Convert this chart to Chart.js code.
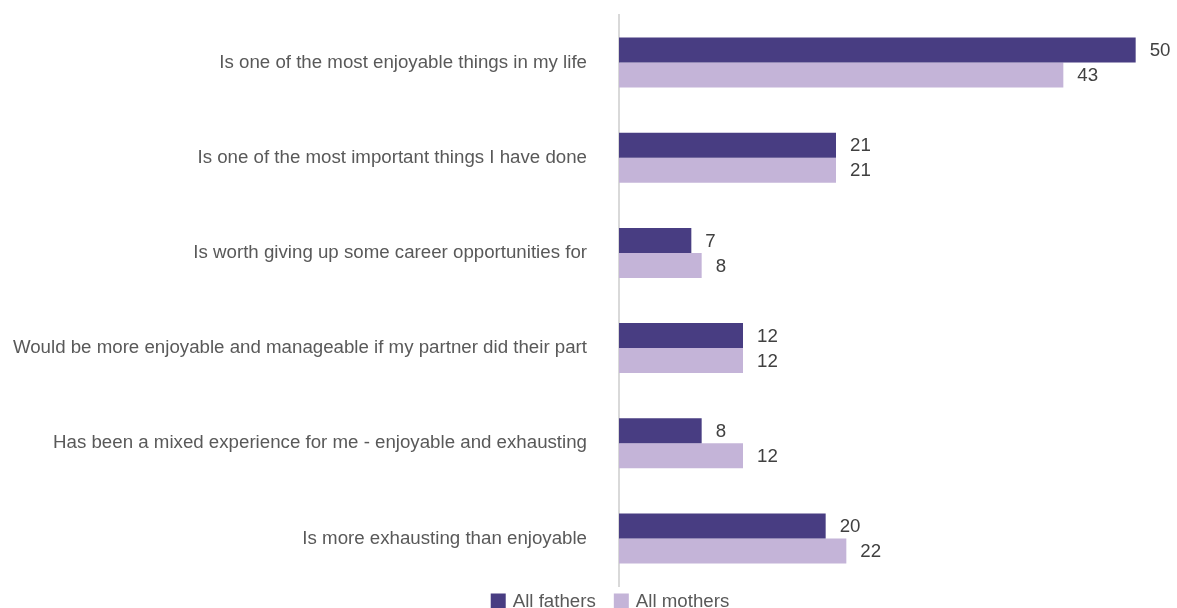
<!DOCTYPE html>
<html>
<head>
<meta charset="utf-8">
<script src="https://cdn.jsdelivr.net/npm/chart.js@4"></script>
<style>
  html, body { margin: 0; padding: 0; background: #fff; }
  #wrap { width: 1177px; height: 608px; }
</style>
</head>
<body>
<div id="wrap"><canvas id="chart"></canvas></div>
<script>
const categories = [
    'Is one of the most enjoyable things in my life',
    'Is one of the most important things I have done',
    'Is worth giving up some career opportunities for',
    'Would be more enjoyable and manageable if my partner did their part',
    'Has been a mixed experience for me - enjoyable and exhausting',
    'Is more exhausting than enjoyable'
];
const fathers = [50, 21, 7, 12, 8, 20];
const mothers = [43, 21, 8, 12, 12, 22];

const FONT = '18.7px "Liberation Sans", Arial, sans-serif';

// value written just past the end of each bar
const valueLabels = {
    id: 'valueLabels',
    afterDatasetsDraw(chart) {
        const ctx = chart.ctx;
        ctx.save();
        ctx.font = FONT;
        ctx.fillStyle = '#404040';
        ctx.textBaseline = 'middle';
        ctx.textAlign = 'left';
        chart.data.datasets.forEach((ds, i) => {
            chart.getDatasetMeta(i).data.forEach((bar, j) => {
                ctx.fillText(ds.data[j], bar.x + 14, bar.y + 1);
            });
        });
        ctx.restore();
    }
};

// small legend under the plot
const bottomLegend = {
    id: 'bottomLegend',
    afterDraw(chart) {
        const ctx = chart.ctx;
        const box = 15, gap = 7, spacing = 18;
        ctx.save();
        ctx.font = FONT;
        ctx.textBaseline = 'middle';
        const items = chart.data.datasets.map(ds => ({
            text: ds.label, color: ds.backgroundColor, w: ctx.measureText(ds.label).width
        }));
        const total = items.reduce((s, it) => s + box + gap + it.w, 0) + spacing * (items.length - 1);
        let x = 610 - total / 2;
        const y = chart.height - 7;
        items.forEach(it => {
            ctx.fillStyle = it.color;
            ctx.fillRect(x, y - box / 2, box, box);
            x += box + gap;
            ctx.fillStyle = '#595959';
            ctx.fillText(it.text, x, y + 1);
            x += it.w + spacing;
        });
        ctx.restore();
    }
};

new Chart(document.getElementById('chart'), {
    type: 'bar',
    data: {
        labels: categories,
        datasets: [
            { label: 'All fathers', data: fathers, backgroundColor: '#483d82' },
            { label: 'All mothers', data: mothers, backgroundColor: '#c4b4d8' }
        ]
    },
    options: {
        indexAxis: 'y',
        responsive: true,
        maintainAspectRatio: false,
        animation: false,
        categoryPercentage: 0.526,
        barPercentage: 1,
        layout: { padding: { top: 15, right: 0, left: 0, bottom: 22 } },
        scales: {
            x: { display: false, min: 0, max: 54 },
            y: {
                afterFit(scale) {
                    scale.width = 619;
                    scale.paddingTop = 0;
                    scale.paddingBottom = 0;
                },
                grid: { display: false, drawTicks: false },
                border: { display: true, color: '#d9d9d9', width: 2 },
                ticks: {
                    padding: 32,
                    color: '#595959',
                    font: { family: '"Liberation Sans", Arial, sans-serif', size: 18.7 }
                }
            }
        },
        plugins: {
            tooltip: { enabled: false },
            legend: { display: false }
        }
    },
    plugins: [valueLabels, bottomLegend]
});
</script>
</body>
</html>
